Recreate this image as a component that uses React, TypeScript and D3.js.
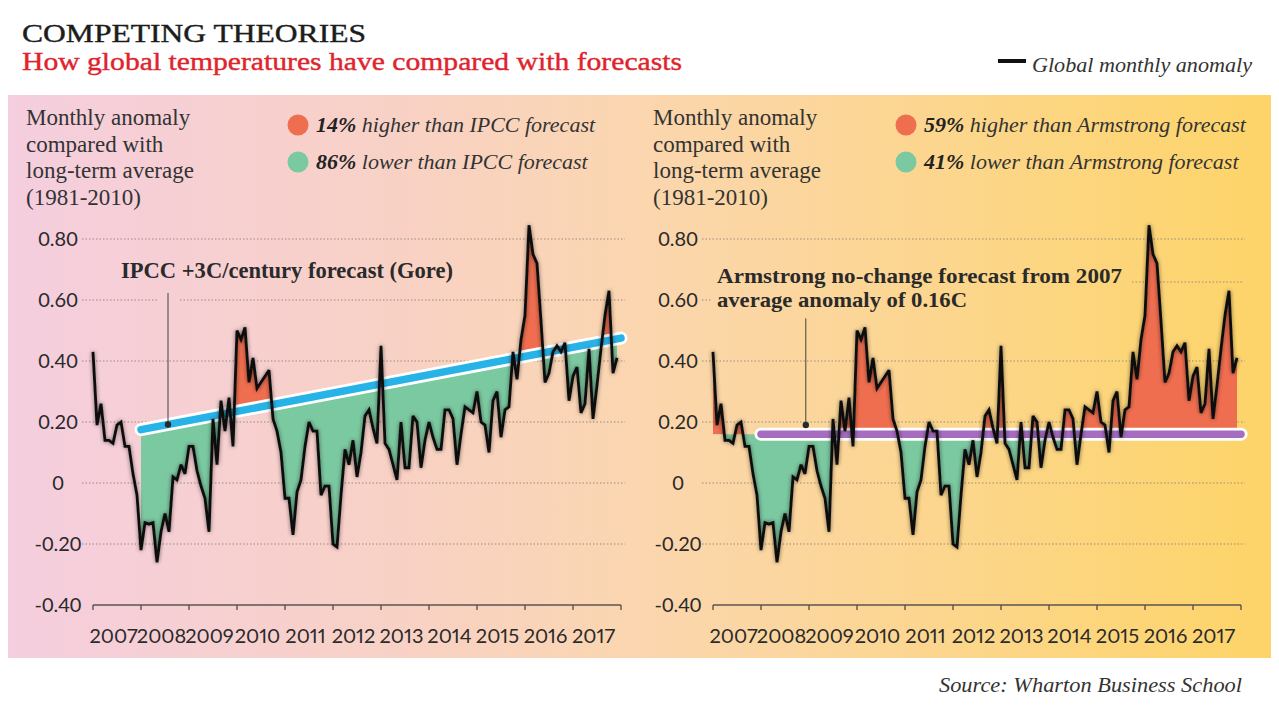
import React from "react";
import * as d3 from "d3";

// ---------------- DATA ----------------
const YEARS = ["2007", "2008", "2009", "2010", "2011", "2012", "2013", "2014", "2015", "2016", "2017"];
const Y_TICKS = [0.8, 0.6, 0.4, 0.2, 0, -0.2, -0.4];
const Y_TICK_LABELS = ["0.80", "0.60", "0.40", "0.20", "0", "-0.20", "-0.40"];

// Global monthly anomaly, Jan 2007 .. Dec 2017
const ANOMALY = [
  0.43, 0.19, 0.26, 0.14, 0.14, 0.13, 0.19, 0.2, 0.12, 0.12, 0.03, -0.04,
  -0.22, -0.13, -0.135, -0.13, -0.26, -0.16, -0.1, -0.16, 0.02, 0.01, 0.06, 0.03,
  0.12, 0.12, 0.04, -0.01, -0.05, -0.16, 0.21, 0.06, 0.27, 0.17, 0.28, 0.12,
  0.5, 0.47, 0.51, 0.33, 0.41, 0.31, 0.33, 0.35, 0.37, 0.21, 0.17, 0.1,
  -0.05, -0.05, -0.17, -0.03, 0.01, 0.12, 0.2, 0.17, 0.17, -0.04, -0.01, -0.01,
  -0.2, -0.21, -0.04, 0.11, 0.06, 0.14, 0.02, 0.1, 0.22, 0.24, 0.18, 0.13,
  0.45, 0.13, 0.11, 0.06, 0.01, 0.2, 0.05, 0.05, 0.22, 0.2, 0.05, 0.14,
  0.2, 0.15, 0.11, 0.11, 0.24, 0.24, 0.21, 0.06, 0.16, 0.25, 0.24, 0.23,
  0.3, 0.2, 0.19, 0.1, 0.27, 0.3, 0.15, 0.24, 0.25, 0.43, 0.34, 0.47,
  0.55, 0.845, 0.75, 0.72, 0.53, 0.33, 0.36, 0.43, 0.45, 0.43, 0.46, 0.27,
  0.35, 0.38, 0.23, 0.26, 0.44, 0.21, 0.32, 0.44, 0.55, 0.63, 0.36, 0.41,
];

const IPCC_START_VALUE = 0.175; // Jan 2008
const IPCC_RATE_PER_CENTURY = 3; // +3C / century
const ARMSTRONG_VALUE = 0.16;
const FORECAST_START_MONTH = 12; // Jan 2008
const FORECAST_END_MONTH = 132; // Jan 2018

const PCT_HIGHER = ["14%", "59%"];
const PCT_LOWER = ["86%", "41%"];
const FORECAST_NAMES = ["IPCC", "Armstrong"];

// ---------------- STYLE ----------------
const SERIF = "'Liberation Serif', 'Times New Roman', serif";
const SANS = "Lato, 'Open Sans', sans-serif";
const COL = {
  orange: "#ef6e4f",
  green: "#7bc9a1",
  blue: "#27b3e8",
  purple: "#a66cc0",
  ink: "#262626",
  red: "#e0232d",
  grid: "#9a8a7e",
  axis: "#5a5550",
};

type PanelProps = { idx: number };

function Panel({ idx }: PanelProps) {
  const ox = idx * 620;
  const isIPCC = idx === 0;
  const x = d3.scaleLinear().domain([0, 132]).range([93 + ox, 621 + ox]);
  const y = d3.scaleLinear().domain([-0.4, 0.8]).range([605, 239]);
  const forecast = (m: number) =>
    isIPCC
      ? IPCC_START_VALUE + (IPCC_RATE_PER_CENTURY / 100 / 12) * (m - FORECAST_START_MONTH)
      : ARMSTRONG_VALUE;
  const fillFrom = isIPCC ? FORECAST_START_MONTH : 0;
  const pts = ANOMALY.map((v, m) => ({ m, v }));
  const fillPts = pts.filter((p) => p.m >= fillFrom);

  const area = d3
    .area<{ m: number; v: number }>()
    .x((d) => x(d.m))
    .y0((d) => y(forecast(d.m)))
    .y1((d) => y(d.v));
  const line = d3
    .line<{ m: number; v: number }>()
    .x((d) => x(d.m))
    .y((d) => y(d.v));

  const ma = fillFrom - 0.5;
  const mb = ANOMALY.length;
  const xa = x(ma);
  const xb = x(mb);
  const ya = y(forecast(ma));
  const yb = y(forecast(mb));
  const clipAbove = `M${xa},${ya}L${xb},${yb}L${xb},0L${xa},0Z`;
  const clipBelow = `M${xa},${ya}L${xb},${yb}L${xb},720L${xa},720Z`;

  const fx0 = x(FORECAST_START_MONTH);
  const fx1 = x(FORECAST_END_MONTH);
  const fy0 = y(forecast(FORECAST_START_MONTH));
  const fy1 = y(forecast(FORECAST_END_MONTH));

  const gridX0 = 82 + ox;
  const gridX1 = 625 + ox;
  const id = `p${idx}`;

  // annotation leader (month index, values)
  const noteM = isIPCC ? 18.75 : 23.2;
  const noteTop = isIPCC ? 0.623 : 0.54;
  const noteDot = isIPCC ? forecast(18.75) : 0.19;

  const textX = isIPCC ? 26 : 653;
  const legX = isIPCC ? 298 : 906;
  const yTickX = 58 + ox;
  const tickYears = d3.range(0, 133, 12);

  return (
    <g>
      <defs>
        <clipPath id={`${id}-above`}>
          <path d={clipAbove} />
        </clipPath>
        <clipPath id={`${id}-below`}>
          <path d={clipBelow} />
        </clipPath>
        <mask id={`${id}-gridmask`} maskUnits="userSpaceOnUse" x={0} y={0} width={1279} height={720}>
          <rect x={0} y={0} width={1279} height={720} fill="#fff" />
          {isIPCC ? (
            <rect x={157} y={290} width={23} height={20} fill="#000" />
          ) : (
            <rect x={711} y={290} width={540} height={20} fill="#000" />
          )}
        </mask>
      </defs>

      {/* side label */}
      <text fontFamily={SERIF} fontSize={23} fill="#333">
        {["Monthly anomaly", "compared with", "long-term average", "(1981-2010)"].map((s, i) => (
          <tspan key={i} x={textX} y={125 + i * 26.5}>
            {s}
          </tspan>
        ))}
      </text>

      {/* legend */}
      <circle cx={legX} cy={125} r={10.5} fill={COL.orange} />
      <circle cx={legX} cy={162} r={10.5} fill={COL.green} />
      <text x={legX + 18} y={132} fontFamily={SERIF} fontSize={22} fontStyle="italic" fill="#333">
        <tspan fontWeight="bold" fill="#222">{PCT_HIGHER[idx]}</tspan>
        {` higher than ${FORECAST_NAMES[idx]} forecast`}
      </text>
      <text x={legX + 18} y={169} fontFamily={SERIF} fontSize={22} fontStyle="italic" fill="#333">
        <tspan fontWeight="bold" fill="#222">{PCT_LOWER[idx]}</tspan>
        {` lower than ${FORECAST_NAMES[idx]} forecast`}
      </text>

      {/* grid */}
      <g mask={`url(#${id}-gridmask)`}>
        {Y_TICKS.filter((t) => t > -0.4).map((t) => (
          <line
            key={t}
            x1={gridX0}
            x2={gridX1}
            y1={y(t)}
            y2={y(t)}
            stroke={COL.grid}
            strokeWidth={1}
            strokeDasharray="1.5 2"
          />
        ))}
      </g>
      {!isIPCC && (
        <line
          x1={1132}
          x2={1243}
          y1={282}
          y2={282}
          stroke={COL.grid}
          strokeWidth={1}
          strokeDasharray="1.5 2"
        />
      )}

      {/* y tick labels */}
      {Y_TICKS.map((t, i) => (
        <text
          key={t}
          x={yTickX}
          y={y(t) + 7}
          textAnchor="middle"
          fontFamily={SANS}
          fontSize={20}
          fill="#2a2a2a"
        >
          {Y_TICK_LABELS[i]}
        </text>
      ))}

      {/* fills */}
      <path d={area(fillPts) || ""} fill={COL.orange} clipPath={`url(#${id}-above)`} />
      <path d={area(fillPts) || ""} fill={COL.green} clipPath={`url(#${id}-below)`} />

      {/* forecast line */}
      <line x1={fx0} y1={fy0} x2={fx1} y2={fy1} stroke="#fff" strokeWidth={13} strokeLinecap="round" />
      <line
        x1={fx0}
        y1={fy0}
        x2={fx1}
        y2={fy1}
        stroke={isIPCC ? COL.blue : COL.purple}
        strokeWidth={7.5}
        strokeLinecap="round"
      />

      {/* anomaly line */}
      <path
        d={line(pts) || ""}
        fill="none"
        stroke="#111"
        strokeWidth={2.8}
        strokeLinejoin="miter"
        strokeMiterlimit={3}
        filter="url(#glow)"
      />

      {/* annotation */}
      <line x1={x(noteM)} x2={x(noteM)} y1={y(noteTop)} y2={y(noteDot)} stroke="#444" strokeWidth={1} />
      <circle cx={x(noteM)} cy={y(noteDot)} r={3.2} fill="#2a2a2a" />
      {isIPCC ? (
        <text x={121} y={278} fontFamily={SERIF} fontSize={23} fontWeight="bold" fill="#2a2a2a" textLength={332} lengthAdjust="spacingAndGlyphs">
          IPCC +3C/century forecast (Gore)
        </text>
      ) : (
        <text fontFamily={SERIF} fontSize={22} fontWeight="bold" fill="#2a2a2a">
          <tspan x={717} y={283} textLength={405} lengthAdjust="spacingAndGlyphs">
            Armstrong no-change forecast from 2007
          </tspan>
          <tspan x={717} y={307} textLength={250} lengthAdjust="spacingAndGlyphs">
            average anomaly of 0.16C
          </tspan>
        </text>
      )}

      {/* x axis */}
      <line x1={x(0)} x2={x(132)} y1={605} y2={605} stroke={COL.axis} strokeWidth={1.6} />
      {tickYears.map((m) => (
        <line key={m} x1={x(m)} x2={x(m)} y1={605} y2={610} stroke={COL.axis} strokeWidth={1.4} />
      ))}
      {YEARS.map((yr, i) => (
        <text
          key={yr}
          x={x(i * 12 + 6) - 3.5}
          y={643}
          textAnchor="middle"
          fontFamily={SANS}
          fontSize={20}
          fill="#2a2a2a"
          style={{ fontVariantNumeric: "proportional-nums" }}
        >
          {yr}
        </text>
      ))}
    </g>
  );
}

export default function App() {
  return (
    <svg
      width={1279}
      height={720}
      viewBox="0 0 1279 720"
      style={{ position: "absolute", left: 0, top: 0, background: "#fff" }}
    >
      <defs>
        <linearGradient id="bg" gradientUnits="userSpaceOnUse" x1={8} y1={0} x2={1271} y2={0}>
          <stop offset="0" stopColor="#f5cedf" />
          <stop offset="0.3" stopColor="#f8d1c6" />
          <stop offset="0.5" stopColor="#fbd6af" />
          <stop offset="0.75" stopColor="#fcd68c" />
          <stop offset="1" stopColor="#fdd468" />
        </linearGradient>
        <filter id="glow" x="-5%" y="-5%" width="110%" height="110%">
          <feGaussianBlur in="SourceAlpha" stdDeviation="2.2" result="b" />
          <feComponentTransfer in="b" result="bs">
            <feFuncA type="linear" slope="0.55" />
          </feComponentTransfer>
          <feMerge>
            <feMergeNode in="bs" />
            <feMergeNode in="SourceGraphic" />
          </feMerge>
        </filter>
      </defs>
      <rect x={0} y={0} width={1279} height={720} fill="#fff" />

      {/* titles */}
      <text x={22} y={42} fontFamily={SERIF} fontSize={26} fill="#1c1c1c" stroke="#1c1c1c" strokeWidth={0.4} textLength={344} lengthAdjust="spacingAndGlyphs">
        COMPETING THEORIES
      </text>
      <text x={22} y={70} fontFamily={SERIF} fontSize={26} fill={COL.red} stroke={COL.red} strokeWidth={0.4} textLength={660} lengthAdjust="spacingAndGlyphs">
        How global temperatures have compared with forecasts
      </text>

      {/* legend */}
      <line x1={998} x2={1026} y1={61} y2={61} stroke="#111" strokeWidth={4} />
      <text x={1032} y={72} fontFamily={SERIF} fontSize={22} fontStyle="italic" fill="#333" textLength={220} lengthAdjust="spacingAndGlyphs">
        Global monthly anomaly
      </text>

      {/* panel background */}
      <rect x={8} y={95} width={1263} height={563} fill="url(#bg)" />

      <Panel idx={0} />
      <Panel idx={1} />

      <text x={939} y={692} fontFamily={SERIF} fontSize={22} fontStyle="italic" fill="#333" textLength={303} lengthAdjust="spacingAndGlyphs">
        Source: Wharton Business School
      </text>
    </svg>
  );
}
